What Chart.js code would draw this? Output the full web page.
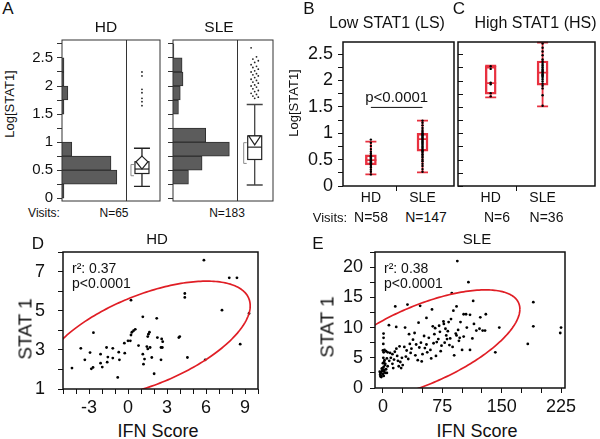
<!DOCTYPE html>
<html>
<head>
<meta charset="utf-8">
<title>STAT1 in HD and SLE</title>
<script src="https://cdn.jsdelivr.net/npm/chart.js"></script>
<style>
  body { margin: 0; background: #fff; }
  #fig { position: relative; width: 600px; height: 439px; overflow: hidden; font-family: Arial, "Liberation Sans", sans-serif; color: #111; }
  #fig canvas { position: absolute; }
  .txt { position: absolute; white-space: nowrap; line-height: 1; transform: translate(-50%, -50%); }
  .left { transform: translate(0, -50%); }
  .rot { transform: translate(-50%, -50%) rotate(-90deg); }
</style>
</head>
<body>
<div id="fig"></div>
<script>
// ---------- data ----------
// panel A: histogram bins (centres of 0.25-wide Log[STAT1] bins) and visit counts
const histBins = [0.125, 0.375, 0.625, 0.875, 1.125, 1.375, 1.625, 1.875, 2.125, 2.375, 2.625];
const histHD   = [1, 28, 25, 5, 0, 0, 1, 3, 1, 1, 0];
const histSLE  = [0, 17, 32, 62, 36, 0, 6, 8, 11, 10, 1];
// outlier box plots: [low whisker, q1, median, q3, high whisker]
const boxA_HD  = [0.21, 0.44, 0.52, 0.65, 0.89];
const boxA_SLE = [0.235, 0.69, 0.91, 1.11, 1.67];
const meanA_HD  = [0.52, 0.65, 0.75];   // mean diamond: low, widest, high
const meanA_SLE = [0.95, 1.11, 1.11];
const shortA_HD  = [0.40, 0.60];        // shortest half
const shortA_SLE = [0.62, 0.99];
const outA_HD  = [2.25, 2.18, 1.94, 1.88, 1.78, 1.72, 1.65];
const outA_SLE = [2.68, 2.52, 2.48, 2.45, 2.42, 2.38, 2.35, 2.33, 2.30, 2.27, 2.25, 2.22, 2.20, 2.18, 2.15,
                  2.12, 2.10, 2.07, 2.05, 2.02, 2.00, 1.98, 1.95, 1.92, 1.90, 1.87, 1.85, 1.82, 1.80, 1.78];
const yTicksA  = [0, 0.25, 0.5, 0.75, 1, 1.25, 1.5, 1.75, 2, 2.25, 2.5, 2.75];
const yLabelsA = [0, 0.5, 1, 1.5, 2, 2.5];

// panels B and C: groups, box stats and visits
const groups = ['HD', 'SLE'];
const boxB_HD  = [0.22, 0.40, 0.49, 0.59, 0.84];
const boxB_SLE = [0.26, 0.66, 0.89, 1.00, 1.24];
const boxC_HD  = [1.68, 1.74, 1.95, 2.27, 2.28];
const boxC_SLE = [1.51, 1.91, 2.15, 2.37, 2.72];
const ptsB_HD  = [0.22, 0.27, 0.31, 0.35, 0.38, 0.41, 0.43, 0.45, 0.47, 0.49, 0.50, 0.52, 0.54, 0.56, 0.58,
                  0.61, 0.65, 0.70, 0.76, 0.82, 0.88];
const ptsB_SLE = [0.27, 0.32, 0.38, 0.42, 0.47, 0.50, 0.54, 0.57, 0.60, 0.63, 0.66, 0.68, 0.70, 0.72, 0.74,
                  0.76, 0.78, 0.80, 0.82, 0.84, 0.86, 0.88, 0.90, 0.92, 0.94, 0.96, 0.98, 1.00, 1.03, 1.06,
                  1.10, 1.15, 1.20, 1.24];
const ptsC_HD  = [1.70, 1.76, 1.93, 1.96, 2.22, 2.27];
const ptsC_SLE = [1.52, 1.72, 1.85, 1.90, 1.94, 1.98, 2.02, 2.05, 2.08, 2.10, 2.12, 2.14, 2.16, 2.18, 2.20,
                  2.22, 2.25, 2.28, 2.30, 2.33, 2.36, 2.40, 2.48, 2.55, 2.62, 2.70];
const yTicksBC  = [0, 0.25, 0.5, 0.75, 1, 1.25, 1.5, 1.75, 2, 2.25, 2.5];
const yLabelsBC = [0, 0.5, 1, 1.5, 2, 2.5];
const sigLevelB = 1.49;
const pTextB = 'p<0.0001';

// panel D: HD, IFN score vs STAT1
const ifnHD = [-4.31, -3.63, -3.32, -2.92, -2.66, -2.82, -2.69, -2.11, -2.11, -1.98, -1.65, -1.60, -1.55, -1.17, -1.17,
  -0.79, -0.71, -0.66, -0.28, -0.25, 0, 0.18, 0.23, 0.23, 0.30, 0.43, 0.56, 0.81, 1.14, 1.14,
  1.19, 1.27, 1.45, 1.52, 1.52, 1.57, 1.65, 1.70, 1.83, 2.01, 2.21, 2.26, 2.54, 2.54, 2.59,
  2.64, 2.67, 3.91, 3.98, 4.37, 4.37, 4.57, 5.84, 5.94, 7.23, 7.79, 8.38, 8.63, 9.31];
const stat1HD = [2.07, 3.08, 2.49, 2.86, 3.88, 2.03, 2.10, 2.78, 2.32, 2.12, 3.12, 2.37, 2.63, 3.08, 2.58,
  1.59, 2.88, 2.49, 3.34, 2.83, 3.46, 3.46, 5.54, 3.76, 3.90, 3.98, 4.05, 3.22, 4.69, 2.78,
  2.27, 2.53, 3.17, 3.05, 3.68, 3.80, 3.90, 3.12, 2.61, 1.78, 4.61, 3.63, 2.49, 3.12, 3.56,
  3.12, 3.42, 3.63, 3.68, 5.88, 5.68, 2.61, 7.58, 2.49, 5.03, 6.68, 6.68, 3.29, 4.86];
// density ellipse: centre x, centre y, x half-axis, y cos term, y sin term
const ellipseHD = [1.4, 3.5, 8.0, 1.75, 2.45];
const xTicksD = [-5, -4, -3, -2, -1, 0, 1, 2, 3, 4, 5, 6, 7, 8, 9, 10];
const xLabelsD = [-3, 0, 3, 6, 9];
const yTicksD = [1, 2, 3, 4, 5, 6, 7, 8];
const yLabelsD = [1, 3, 5, 7];

// panel E: SLE, IFN score vs STAT1
const ifnSLE = [-3, -3.5, -2, -2.5, -1, -3, -1.5, -2, -4,
  0, 0.5, 1, 0, 1.5, 0.5, 2, 1, 0, 2, 0.5, 0.8, 0.8, 1.5, 2.5, 3, 1, -0.5, 3, 2,
  4, 5, 6, 7.6, 6, 8, 9, 5, 4, 10,
  12, 13, 15, 16.8, 15.6, 14, 18, 20, 17, 22, 24, 25, 12, 19, 21, 23,
  28, 31, 27, 30, 33, 35, 38, 40, 42, 44, 45, 46, 48, 47, 32, 36, 50, 29, 41, 34, 49,
  52, 55, 55, 58, 60, 62, 63, 65, 66, 68, 70, 72, 74, 56, 61, 64, 53, 67, 71, 73,
  76.5, 77, 80, 83, 85, 86, 87, 89, 90, 92, 93, 93, 94, 96, 98, 100, 78, 82, 88, 95, 81, 79, 97, 84,
  102, 102, 105, 108, 110, 110, 113, 114, 118, 123, 122, 126, 129, 130, 106, 115,
  142, 147, 183, 190, 190, 224, 225];
const stat1SLE = [1.9, 2.2, 2.0, 2.6, 2.8, 2.4, 3.2, 1.8, 2.7,
  2.3, 3.0, 3.5, 4.1, 4.3, 5.0, 4.6, 5.9, 6.2, 6.3, 7.3, 8.3, 9.0, 2.7, 3.8, 2.5, 2.0, 3.3, 4.0, 3.0,
  3.1, 4.9, 5.9, 10.4, 3.6, 4.5, 5.8, 2.5, 6.1, 5.0,
  4.0, 3.3, 6.0, 10.1, 13.5, 4.7, 5.3, 3.6, 6.5, 4.3, 5.0, 3.8, 5.6, 4.5, 6.9, 3.3,
  10.0, 13.8, 6.8, 6.2, 8.9, 5.8, 8.0, 9.1, 7.2, 4.6, 10.8, 6.7, 7.5, 13.6, 4.8, 6.5, 5.6, 5.2, 5.4, 7.3, 4.4,
  8.6, 11.6, 7.2, 8.3, 6.3, 13.0, 10.2, 8.9, 9.9, 7.6, 8.1, 9.3, 7.0, 5.9, 4.9, 7.4, 6.6, 5.3, 10.3, 6.1,
  11.0, 10.6, 8.7, 10.9, 8.2, 11.4, 15.7, 12.8, 5.4, 9.0, 13.5, 8.7, 21.0, 7.8, 10.9, 6.3, 7.5, 9.4, 6.8, 9.6, 8.1, 9.8, 8.3, 7.1,
  8.5, 12.2, 12.2, 17.5, 12.1, 6.3, 8.2, 14.4, 9.5, 11.7, 9.8, 9.5, 9.5, 12.2, 10.0, 10.6,
  5.9, 10.0, 7.3, 10.2, 14.2, 9.1, 10.0];
const ellipseSLE = [48, 7.05, 125, 6.0, 6.96];
const xTicksE = [0, 25, 50, 75, 100, 125, 150, 175, 200, 225];
const xLabelsE = [0, 75, 150, 225];
const yTicksE = [0, 2.5, 5, 7.5, 10, 12.5, 15, 17.5, 20, 22.5];
const yLabelsE = [0, 5, 10, 15, 20];

// ---------- helpers ----------
const boxRed = '#e8303f';
const ellRed = '#e01e25';
Chart.defaults.font.family = 'Arial, "Liberation Sans", sans-serif';
Chart.defaults.color = '#111';
const fig = document.getElementById('fig');

function makeCanvas(left, top, w, h) {
  const c = document.createElement('canvas');
  c.width = w; c.height = h;
  c.style.left = left + 'px'; c.style.top = top + 'px';
  c.style.width = w + 'px'; c.style.height = h + 'px';
  fig.appendChild(c);
  return c;
}
function text(str, x, y, size, cls) {
  const d = document.createElement('div');
  d.className = 'txt' + (cls ? ' ' + cls : '');
  d.textContent = str;
  d.style.left = x + 'px'; d.style.top = y + 'px'; d.style.fontSize = size + 'px';
  fig.appendChild(d);
}
const fixedTicks = values => scale => { scale.ticks = values.map(v => ({ value: v })); };
const labelIf = list => v => list.includes(v) ? String(v) : '';
// fixed axis size, and no extra room for labels that hang over the plot edges
const fixWidth = w => s => { s.width = w; s.paddingTop = s.paddingBottom = s.paddingLeft = s.paddingRight = 0; };
const fixHeight = h => s => { s.height = h; s.paddingTop = s.paddingBottom = s.paddingLeft = s.paddingRight = 0; };
const common = {
  responsive: false, animation: false, events: [],
  plugins: { legend: { display: false }, tooltip: { enabled: false } }
};
function frame(chart, color, lw) {
  const { ctx, chartArea: a } = chart;
  ctx.save();
  ctx.strokeStyle = color; ctx.lineWidth = lw;
  ctx.strokeRect(a.left, a.top, a.right - a.left, a.bottom - a.top);
  ctx.restore();
}

// ---------- panel A ----------
function yAxisA(showLabels) {
  return {
    type: 'linear', min: -0.05, max: 2.82, offset: false,
    afterBuildTicks: fixedTicks(yTicksA),
    afterFit: fixWidth(showLabels ? 42 : 9),
    ticks: { display: showLabels, callback: labelIf(yLabelsA), font: { size: 15 }, color: '#111', padding: 4, autoSkip: false },
    grid: { drawOnChartArea: false, offset: false, tickLength: 5, color: '#333' },
    border: { display: false }
  };
}
function outlierBox(divFrac, boxFrac, stats, diamond, bracket, outliers, jitter, whisk) {
  return { id: 'outlierBox', afterDatasetsDraw(chart) {
    const { ctx, chartArea: a, scales: { y } } = chart;
    const w = a.right - a.left;
    const py = v => y.getPixelForValue(v);
    const cx = a.left + boxFrac * w;
    ctx.save();
    ctx.strokeStyle = '#333'; ctx.lineWidth = 1;
    const dx = Math.round(a.left + divFrac * w) + 0.5;
    ctx.beginPath(); ctx.moveTo(dx, a.top); ctx.lineTo(dx, a.bottom); ctx.stroke();
    ctx.strokeStyle = whisk; ctx.lineWidth = 1.3;
    ctx.beginPath();
    ctx.moveTo(cx, py(stats[0])); ctx.lineTo(cx, py(stats[4]));
    [stats[0], stats[4]].forEach(v => { ctx.moveTo(cx - 8, py(v)); ctx.lineTo(cx + 8, py(v)); });
    ctx.stroke();
    const t = py(stats[3]), b = py(stats[1]);
    ctx.fillStyle = '#fff'; ctx.strokeStyle = '#222'; ctx.lineWidth = 1.2;
    ctx.fillRect(cx - 7, t, 14, b - t); ctx.strokeRect(cx - 7, t, 14, b - t);
    ctx.beginPath(); ctx.moveTo(cx - 7, py(stats[2])); ctx.lineTo(cx + 7, py(stats[2])); ctx.stroke();
    ctx.beginPath();
    ctx.moveTo(cx, py(diamond[2])); ctx.lineTo(cx + 6, py(diamond[1]));
    ctx.lineTo(cx, py(diamond[0])); ctx.lineTo(cx - 6, py(diamond[1])); ctx.closePath();
    ctx.fill(); ctx.stroke();
    ctx.strokeStyle = '#8a8a8a'; ctx.lineWidth = 1;
    const bx = cx - 11;
    ctx.beginPath();
    ctx.moveTo(bx + 3, py(bracket[1])); ctx.lineTo(bx, py(bracket[1]));
    ctx.lineTo(bx, py(bracket[0])); ctx.lineTo(bx + 3, py(bracket[0]));
    ctx.stroke();
    ctx.fillStyle = '#222';
    outliers.forEach((v, i) => {
      ctx.beginPath(); ctx.arc(cx + ((i * 3) % 5 - 2) * jitter, py(v), 0.9, 0, 2 * Math.PI); ctx.fill();
    });
    ctx.restore();
    frame(chart, '#333', 1);
  } };
}
function histPanel(canvas, counts, xMax, showLabels, extra) {
  return new Chart(canvas, {
    type: 'bar',
    data: { datasets: [{
      data: histBins.map((b, i) => ({ x: counts[i], y: b })),
      backgroundColor: '#5c5c5c', borderColor: '#2e2e2e', borderWidth: 1,
      barPercentage: 1, categoryPercentage: 1
    }] },
    options: { ...common, indexAxis: 'y',
      layout: { padding: { top: 10, right: 2, bottom: 4, left: 0 } },
      scales: { x: { type: 'linear', min: 0, max: xMax, display: false }, y: yAxisA(showLabels) } },
    plugins: [extra]
  });
}
histPanel(makeCanvas(20, 30, 142, 175), histHD, 50, true,
  outlierBox(0.653, 0.816, boxA_HD, meanA_HD, shortA_HD, outA_HD, 0, '#222'));
histPanel(makeCanvas(164, 30, 111, 175), histSLE, 110, false,
  outlierBox(0.64, 0.817, boxA_SLE, meanA_SLE, shortA_SLE, outA_SLE, 1.8, '#444'));

// ---------- panels B and C ----------
function whiskers(stats, opts) {
  return { id: 'whiskers',
    beforeDatasetsDraw(chart) {
      const { ctx, scales: { x, y } } = chart;
      const py = v => y.getPixelForValue(v);
      ctx.save(); ctx.strokeStyle = boxRed; ctx.lineWidth = 1.8;
      stats.forEach((s, i) => {
        const cx = x.getPixelForValue(i);
        ctx.beginPath();
        ctx.moveTo(cx, py(s[0])); ctx.lineTo(cx, py(s[1]));
        ctx.moveTo(cx, py(s[3])); ctx.lineTo(cx, py(s[4]));
        [s[0], s[2], s[4]].forEach(v => { ctx.moveTo(cx - 5.5, py(v)); ctx.lineTo(cx + 5.5, py(v)); });
        ctx.stroke();
      });
      ctx.restore();
    },
    afterDraw(chart) {
      const { ctx, chartArea: a, scales: { x, y } } = chart;
      ctx.save();
      if (opts.innerTicks) {
        ctx.strokeStyle = '#111'; ctx.lineWidth = 1;
        ctx.beginPath();
        yTicksBC.forEach(v => { const p = Math.round(y.getPixelForValue(v)) + 0.5; ctx.moveTo(a.left, p); ctx.lineTo(a.left + 5, p); });
        ctx.stroke();
      }
      if (opts.sig) {
        const p = y.getPixelForValue(sigLevelB);
        ctx.strokeStyle = '#111'; ctx.lineWidth = 1;
        ctx.beginPath(); ctx.moveTo(x.getPixelForValue(0), p); ctx.lineTo(x.getPixelForValue(1), p); ctx.stroke();
        ctx.fillStyle = '#111'; ctx.font = '15px Arial, "Liberation Sans", sans-serif';
        ctx.textAlign = 'center'; ctx.textBaseline = 'bottom';
        ctx.fillText(pTextB, x.getPixelForValue(0.5), p - 2);
      }
      ctx.restore();
      frame(chart, '#111', 1.5);
    }
  };
}
function boxPanel(canvas, xMin, xMax, stats, pts, showLabels, opts) {
  return new Chart(canvas, {
    type: 'bar',
    data: { datasets: [
      { type: 'scatter', order: 0,
        data: pts.flatMap((list, g) => list.map(v => ({ x: g, y: v }))),
        pointRadius: 1.2, pointBackgroundColor: '#000', pointBorderWidth: 0 },
      { type: 'bar', order: 1,
        data: stats.map((s, g) => ({ x: g, y: [s[1], s[3]] })),
        barThickness: 11, backgroundColor: 'rgba(255,255,255,0)', borderColor: boxRed,
        borderWidth: 1.8, borderSkipped: false }
    ] },
    options: { ...common,
      layout: { padding: { top: 4, right: opts.padRight, bottom: 0, left: 0 } },
      scales: {
        x: { type: 'linear', min: xMin, max: xMax, offset: false,
          afterBuildTicks: fixedTicks([0, 0.5, 1]),
          afterFit: fixHeight(22),
          ticks: { callback: v => groups[v] || '', font: { size: 14 }, color: '#111', padding: -1, maxRotation: 0, autoSkip: false },
          grid: { drawOnChartArea: false, offset: false, tickLength: 5, color: '#111',
            tickColor: c => (c.tick && c.tick.value === 0.5) ? '#111' : 'rgba(0,0,0,0)' },
          border: { display: false } },
        y: { type: 'linear', min: 0, max: 2.73, offset: false,
          afterBuildTicks: fixedTicks(yTicksBC),
          afterFit: fixWidth(showLabels ? 45 : 9),
          ticks: { display: showLabels, callback: labelIf(yLabelsBC), font: { size: 18 }, color: '#111', padding: 5, autoSkip: false },
          grid: { drawOnChartArea: false, drawTicks: showLabels, tickLength: 5, color: '#111' },
          border: { display: false } }
      } },
    plugins: [whiskers(stats, opts)]
  });
}
boxPanel(makeCanvas(298, 38, 160, 170), -0.54, 1.61, [boxB_HD, boxB_SLE], [ptsB_HD, ptsB_SLE], true,
  { sig: true, innerTicks: false, padRight: 1 });
boxPanel(makeCanvas(449, 38, 150, 170), -0.63, 2.01, [boxC_HD, boxC_SLE], [ptsC_HD, ptsC_SLE], false,
  { sig: false, innerTicks: true, padRight: 2 });

// ---------- panels D and E ----------
function ellipse(e) {
  return { id: 'ellipse', afterDatasetsDraw(chart) {
    const { ctx, chartArea: a, scales: { x, y } } = chart;
    ctx.save();
    ctx.beginPath(); ctx.rect(a.left, a.top, a.right - a.left, a.bottom - a.top); ctx.clip();
    ctx.strokeStyle = ellRed; ctx.lineWidth = 1.7;
    ctx.beginPath();
    for (let i = 0; i <= 240; i++) {
      const t = i / 240 * 2 * Math.PI;
      const px = x.getPixelForValue(e[0] + e[2] * Math.cos(t));
      const py = y.getPixelForValue(e[1] + e[3] * Math.cos(t) + e[4] * Math.sin(t));
      if (i) ctx.lineTo(px, py); else ctx.moveTo(px, py);
    }
    ctx.stroke();
    ctx.restore();
    frame(chart, '#111', 1.5);
  } };
}
function scatterPanel(canvas, xs, ys, ell, ax) {
  return new Chart(canvas, {
    type: 'scatter',
    data: { datasets: [{ data: xs.map((v, i) => ({ x: v, y: ys[i] })),
      pointRadius: 1.4, pointBackgroundColor: '#000', pointBorderWidth: 0 }] },
    options: { ...common,
      layout: { padding: { top: 4, right: ax.padRight, bottom: 0, left: 0 } },
      scales: {
        x: { type: 'linear', min: ax.xMin, max: ax.xMax,
          afterBuildTicks: fixedTicks(ax.xTicks),
          afterFit: fixHeight(ax.xH),
          ticks: { callback: labelIf(ax.xLabels), font: { size: 18 }, color: '#111', padding: 3, maxRotation: 0, autoSkip: false },
          grid: { drawOnChartArea: false, tickLength: 5, color: '#111' },
          border: { display: false } },
        y: { type: 'linear', min: ax.yMin, max: ax.yMax,
          afterBuildTicks: fixedTicks(ax.yTicks),
          afterFit: fixWidth(ax.yW),
          ticks: { callback: labelIf(ax.yLabels), font: { size: 18 }, color: '#111', padding: ax.yPad, autoSkip: false },
          grid: { drawOnChartArea: false, tickLength: 5, color: '#111' },
          border: { display: false } }
      } },
    plugins: [ellipse(ell)]
  });
}
scatterPanel(makeCanvas(18, 248, 244, 170), ifnHD, stat1HD, ellipseHD,
  { xMin: -5, xMax: 10, xTicks: xTicksD, xLabels: xLabelsD, xH: 29, padRight: 4,
    yMin: 1, yMax: 8, yTicks: yTicksD, yLabels: yLabelsD, yW: 45, yPad: 13 });
scatterPanel(makeCanvas(328, 248, 272, 170), ifnSLE, stat1SLE, ellipseSLE,
  { xMin: -10, xMax: 230, xTicks: xTicksE, xLabels: xLabelsE, xH: 30, padRight: 35,
    yMin: 0, yMax: 22.5, yTicks: yTicksE, yLabels: yLabelsE, yW: 47, yPad: 7 });

// ---------- text ----------
text('A', 8, 8, 17);
text('HD', 106, 27, 15.5);
text('SLE', 219, 27, 15.5);
text('Log[STAT1]', 9, 104, 13, 'rot');
text('Visits:', 44, 213, 12);
text('N=65', 114, 213, 12);
text('N=183', 227, 213, 12);
text('Log[STAT1]', 293, 103, 13, 'rot');
text('B', 309, 8, 17);
text('C', 459, 8, 17);
text('Low STAT1 (LS)', 387, 23, 16);
text('High STAT1 (HS)', 535.5, 23, 16);
text('Visits:', 330, 217, 13);
text('N=58', 371, 217, 14);
text('N=147', 426, 217, 14);
text('N=6', 497, 217, 14);
text('N=36', 546.5, 217, 14);
text('D', 38, 243, 17);
text('HD', 157, 238, 15);
text('r\u00b2: 0.37', 72, 268, 14, 'left');
text('p<0.0001', 72, 283, 14, 'left');
text('STAT 1', 25, 329, 19, 'rot');
text('IFN Score', 158, 431, 18);
text('E', 318, 243, 17);
text('SLE', 477, 238, 15);
text('r\u00b2: 0.38', 384, 268, 14, 'left');
text('p<0.0001', 384, 283, 14, 'left');
text('STAT 1', 327, 327, 19, 'rot');
text('IFN Score', 477, 431, 18);
</script>
</body>
</html>
